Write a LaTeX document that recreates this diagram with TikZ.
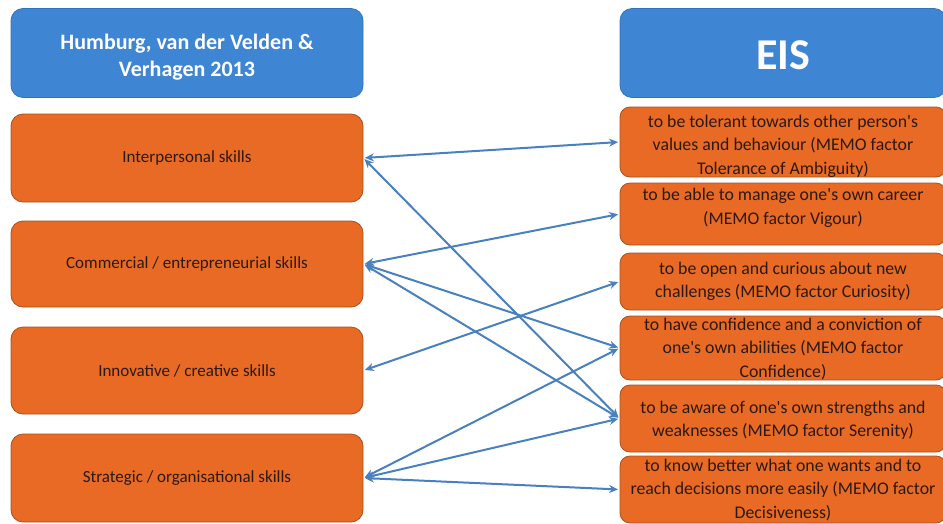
\documentclass[tikz,border=0pt]{standalone}
\usepackage{fontspec}
\setmainfont{Carlito}
\usetikzlibrary{arrows.meta}
\definecolor{hblue}{RGB}{62,134,212}
\definecolor{hblueb}{RGB}{52,116,186}
\definecolor{orng}{RGB}{232,106,36}
\definecolor{orngb}{RGB}{170,80,30}
\definecolor{arr}{RGB}{72,128,192}
\definecolor{txt}{RGB}{45,25,20}
\newcommand{\ap}{\textquotesingle}
\begin{document}
\begin{tikzpicture}[x=1pt,y=-1pt,
 hdr/.style={draw=hblueb, fill=hblue, rounded corners=12pt, line width=0.8pt, inner sep=0pt},
 htext/.style={text=white, align=center, inner sep=0pt},
 lbox/.style={draw=orngb, fill=orng, rounded corners=12pt, line width=0.8pt, minimum width=352pt, inner sep=0pt, text=txt, font=\fontsize{17}{20}\selectfont},
 rbox/.style={draw=orngb, fill=orng, rounded corners=10pt, line width=0.8pt, minimum width=326pt, inner sep=0pt},
 rtext/.style={text=txt, align=center, font=\fontsize{17.8}{23.5}\selectfont, inner sep=0pt},
 link/.style={draw=arr, line width=2pt, {Stealth[length=9pt,width=8pt]}-{Stealth[length=9pt,width=8pt]}, shorten <=1.5pt, shorten >=1.5pt}]
\useasboundingbox (0,0) rectangle (943,523);
\clip (0,0) rectangle (943,523);
% left column
\node[hdr, minimum width=352pt, minimum height=89pt] (lh) at (187,53) {};
\node[htext, font=\fontsize{22}{27}\selectfont\bfseries] (lht) at (187,57.5) {Humburg, van der Velden \&\\Verhagen 2013};
\node[lbox, minimum height=88pt] (l1) at (187,158) {Interpersonal skills};
\node[lbox, minimum height=86pt] (l2) at (187,264) {Commercial / entrepreneurial skills};
\node[lbox, minimum height=87pt] (l3) at (187,370.5) {Innovative / creative skills};
\node[lbox, minimum height=88pt] (l4) at (187,478) {Strategic / organisational skills};
% right column
\node[hdr, minimum width=326pt, minimum height=89pt] (rh) at (783,53) {};
\node[htext, font=\fontsize{44}{46}\selectfont\bfseries] (rht) at (783,55) {EIS};
\node[rbox, minimum height=70pt] (r1) at (783,142) {};
\node[rbox, minimum height=62pt] (r2) at (783,214) {};
\node[rbox, minimum height=57pt] (r3) at (783,281.5) {};
\node[rbox, minimum height=64pt] (r4) at (783,348) {};
\node[rbox, minimum height=67pt] (r5) at (783,418.5) {};
\node[rbox, minimum height=67pt] (r6) at (783,489.5) {};
\node[rtext] (t1) at (783,146) {to be tolerant towards other person\ap s\\values and behaviour (MEMO factor\\Tolerance of Ambiguity)};
\node[rtext] (t2) at (783,208) {to be able to manage one\ap s own career\\(MEMO factor Vigour)};
\node[rtext] (t3) at (783,281.5) {to be open and curious about new\\challenges (MEMO factor Curiosity)};
\node[rtext] (t4) at (783,349) {to have confidence and a conviction of\\one\ap s own abilities (MEMO factor\\Confidence)};
\node[rtext] (t5) at (783,420) {to be aware of one\ap s own strengths and\\weaknesses (MEMO factor Serenity)};
\node[rtext] (t6) at (783,490) {to know better what one wants and to\\reach decisions more easily (MEMO factor\\Decisiveness)};
% links
\draw[link] (l1.east) -- (r1.west);
\draw[link] (l1.east) -- (r5.west);
\draw[link] (l2.east) -- (r2.west);
\draw[link] (l2.east) -- (r4.west);
\draw[link] (l2.east) -- (r5.west);
\draw[link] (l3.east) -- (r3.west);
\draw[link] (l4.east) -- (r4.west);
\draw[link] (l4.east) -- (r5.west);
\draw[link] (l4.east) -- (r6.west);
\end{tikzpicture}
\end{document}
